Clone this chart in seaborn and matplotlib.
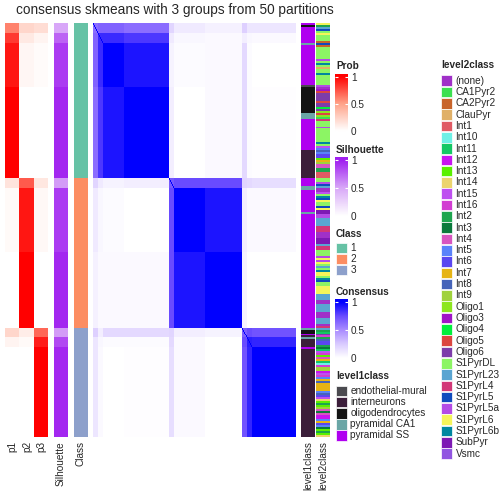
import numpy as np
import matplotlib
matplotlib.use("Agg")
import matplotlib.pyplot as plt
import seaborn as sns
from matplotlib.colors import ListedColormap, LinearSegmentedColormap

sns.set_style("white")
plt.rcParams['font.family'] = ['Liberation Sans', 'DejaVu Sans']

# ---- data ----
# sample groups (rows sorted as in the picture), samples per group and class
groups = ["A1", "A2", "B", "C", "D0", "D", "E", "F0", "F1", "H"]
group_sizes = [5, 5, 22, 46, 5, 32, 38, 5, 5, 45]
group_class = [1, 1, 1, 1, 2, 2, 2, 3, 3, 3]

# membership probabilities and silhouette for each group
prob_p1 = [0.60, 0.82, 0.93, 1.00, 0.15, 0.03, 0.00, 0.22, 0.06, 0.00]
prob_p2 = [0.22, 0.12, 0.05, 0.00, 0.72, 0.93, 1.00, 0.10, 0.03, 0.00]
prob_p3 = [0.18, 0.06, 0.02, 0.00, 0.13, 0.04, 0.00, 0.68, 0.91, 1.00]
silhouette = [0.50, 0.75, 0.90, 0.97, 0.55, 0.90, 0.97, 0.55, 0.85, 0.97]

# consensus between groups (symmetric)
consensus_blocks = [
    #  A1    A2    B     C     D0    D     E     F0    F1    H
    [0.62, 0.66, 0.66, 0.62, 0.20, 0.10, 0.07, 0.22, 0.12, 0.12],  # A1
    [0.66, 0.86, 0.86, 0.82, 0.10, 0.04, 0.03, 0.08, 0.04, 0.03],  # A2
    [0.66, 0.86, 1.00, 0.93, 0.06, 0.02, 0.03, 0.18, 0.02, 0.00],  # B
    [0.62, 0.82, 0.93, 1.00, 0.08, 0.00, 0.03, 0.18, 0.02, 0.01],  # C
    [0.20, 0.10, 0.06, 0.08, 0.70, 0.75, 0.75, 0.20, 0.18, 0.16],  # D0
    [0.10, 0.04, 0.02, 0.00, 0.75, 1.00, 0.93, 0.08, 0.03, 0.03],  # D
    [0.07, 0.03, 0.03, 0.03, 0.75, 0.93, 1.00, 0.06, 0.00, 0.00],  # E
    [0.22, 0.08, 0.18, 0.18, 0.20, 0.08, 0.06, 0.68, 0.75, 0.72],  # F0
    [0.12, 0.04, 0.02, 0.02, 0.18, 0.03, 0.00, 0.75, 0.90, 0.88],  # F1
    [0.12, 0.03, 0.00, 0.01, 0.16, 0.03, 0.00, 0.72, 0.88, 1.00],  # H
]

level1_names = ["endothelial-mural", "interneurons", "oligodendrocytes",
                "pyramidal CA1", "pyramidal SS"]
level1_colors = ["#4b4a4f", "#3b1e3a", "#141414", "#6aa6a6", "#b000f0"]
level1_runs = [
    ("pyramidal SS", 1), ("oligodendrocytes", 1), ("pyramidal SS", 8),
    ("pyramidal CA1", 1), ("pyramidal SS", 20), ("endothelial-mural", 1),
    ("oligodendrocytes", 13), ("pyramidal CA1", 3), ("pyramidal SS", 16),
    ("interneurons", 14),
    ("pyramidal SS", 4), ("pyramidal CA1", 2), ("pyramidal SS", 11),
    ("pyramidal CA1", 1), ("pyramidal SS", 57),
    ("pyramidal CA1", 1), ("oligodendrocytes", 2), ("pyramidal SS", 1),
    ("interneurons", 1), ("pyramidal CA1", 1), ("interneurons", 4),
    ("pyramidal SS", 1), ("interneurons", 44),
]

level2_names = ["(none)", "CA1Pyr2", "CA2Pyr2", "ClauPyr", "Int1", "Int10", "Int11",
                "Int12", "Int13", "Int14", "Int15", "Int16", "Int2", "Int3", "Int4",
                "Int5", "Int6", "Int7", "Int8", "Int9", "Oligo1", "Oligo3", "Oligo4",
                "Oligo5", "Oligo6", "S1PyrDL", "S1PyrL23", "S1PyrL4", "S1PyrL5",
                "S1PyrL5a", "S1PyrL6", "S1PyrL6b", "SubPyr", "Vsmc"]
level2_colors = ["#a030c8", "#3ce050", "#c8642a", "#e0b068", "#e05a64", "#6ef0e6",
                 "#14c864", "#c814f0", "#5af000", "#ecd46e", "#be50f0", "#d23cd2",
                 "#1ea54f", "#0a7a3c", "#d855c0", "#5a82fa", "#5a46f0", "#e6b414",
                 "#4664b9", "#a0d23c", "#8ce61e", "#a014c8", "#00f03c", "#dc4640",
                 "#7d3caa", "#8cf564", "#5aa5d2", "#d23778", "#0f4bbe", "#b44be6",
                 "#f5f55a", "#0087a0", "#7d19b4", "#9155e1"]
level2_runs = [
    # class 1
    ("S1PyrL6", 1), ("Int2", 1), ("S1PyrL23", 1), ("S1PyrL5", 1), ("S1PyrDL", 1),
    ("S1PyrL6", 1), ("S1PyrDL", 3), ("CA2Pyr2", 1), ("S1PyrL5", 1), ("CA2Pyr2", 1),
    ("S1PyrDL", 6), ("S1PyrL5a", 1), ("S1PyrDL", 1), ("S1PyrL6b", 1), ("S1PyrDL", 1),
    ("ClauPyr", 1), ("S1PyrDL", 2), ("S1PyrL6b", 1), ("S1PyrDL", 5), ("S1PyrL5a", 1),
    ("(none)", 1), ("Oligo3", 1), ("Oligo5", 1), ("Oligo6", 4), ("Oligo5", 1),
    ("Oligo6", 2), ("Oligo4", 1), ("Oligo6", 1), ("Oligo1", 1), ("Oligo5", 1),
    ("Oligo1", 1), ("CA1Pyr2", 1), ("S1PyrL4", 1), ("S1PyrDL", 3), ("S1PyrL5a", 1),
    ("S1PyrDL", 7), ("S1PyrL6b", 1), ("S1PyrDL", 1), ("Int15", 1), ("Int5", 1),
    ("Int8", 1), ("Int5", 1), ("Int6", 2), ("Int13", 1), ("Int7", 1), ("Int9", 1),
    ("Int4", 2), ("Int2", 2), ("Int1", 3),
    # class 2
    ("S1PyrDL", 2), ("S1PyrL5a", 1), ("S1PyrL5", 1), ("S1PyrL23", 1), ("(none)", 2),
    ("Int15", 1), ("S1PyrDL", 1), ("S1PyrL6b", 1), ("S1PyrL5", 1), ("S1PyrL6", 1),
    ("S1PyrDL", 2), ("S1PyrL5", 1), ("S1PyrL6", 1), ("SubPyr", 2), ("S1PyrL5a", 2),
    ("S1PyrL23", 4), ("S1PyrL4", 1),
    ("S1PyrL4", 2), ("(none)", 3), ("SubPyr", 3), ("S1PyrL23", 1), ("S1PyrL4", 2),
    ("S1PyrDL", 3), ("S1PyrL5a", 1), ("S1PyrL6", 1), ("S1PyrL5a", 1), ("S1PyrL6", 1),
    ("S1PyrDL", 1), ("S1PyrL23", 1), ("S1PyrDL", 1), ("S1PyrL6b", 1), ("S1PyrL6", 2),
    ("S1PyrDL", 1), ("S1PyrL6b", 1), ("S1PyrL5", 1), ("S1PyrDL", 2), ("S1PyrL6", 4),
    ("S1PyrL23", 3), ("(none)", 2), ("S1PyrL23", 4), ("(none)", 3), ("S1PyrL23", 3),
    ("(none)", 1), ("S1PyrL4", 1),
    # class 3
    ("S1PyrL23", 1), ("Int2", 1), ("Int11", 1), ("Oligo6", 1), ("Int16", 1),
    ("Int2", 1), ("Int8", 1), ("Int6", 2), ("Int2", 1), ("Int3", 1), ("Int11", 1),
    ("Int15", 1), ("Int16", 1), ("Int13", 1), ("Int4", 1), ("Int7", 1), ("Int11", 1),
    ("Int10", 1), ("Int16", 1), ("Int9", 2), ("Int12", 1), ("Int15", 1), ("Int16", 1),
    ("Int5", 1), ("Int7", 1), ("Int8", 1), ("Int7", 4), ("Int5", 1), ("Int8", 1),
    ("Int6", 1), ("Int15", 1), ("Int14", 1), ("Int13", 1), ("Int2", 1), ("Int13", 1),
    ("Int9", 1), ("Int4", 1), ("Int3", 1), ("Int4", 1), ("Int12", 2), ("Int5", 1),
    ("Int7", 1), ("Int6", 1), ("Int5", 1), ("Int3", 1), ("Int13", 1), ("Int2", 1),
    ("Int13", 1), ("Int14", 1),
]

class_colors = ["#66c2a5", "#fc8d62", "#8da0cb"]

# ---- expand to samples ----
gi = np.repeat(np.arange(len(groups)), group_sizes)
prob = np.column_stack([np.array(prob_p1)[gi], np.array(prob_p2)[gi], np.array(prob_p3)[gi]])
sil = np.array(silhouette)[gi][:, None]
cls = (np.array(group_class)[gi] - 1)[:, None]
cons = np.array(consensus_blocks)[gi][:, gi]
np.fill_diagonal(cons, 1.0)
lv1 = np.concatenate([[level1_names.index(n)] * k for n, k in level1_runs])[:, None]
lv2 = np.concatenate([[level2_names.index(n)] * k for n, k in level2_runs])[:, None]

prob_cmap = LinearSegmentedColormap.from_list("prob", ["#ffffff", "#ffa288", "#ff0000"])
sil_cmap = LinearSegmentedColormap.from_list("sil", ["#ffffff", "#d8a8f8", "#a020f0"])
cons_cmap = LinearSegmentedColormap.from_list(
    "cons", ["#ffffff", "#d9caff", "#a98cff", "#6a4cff", "#0000ff"])

fig = plt.figure(figsize=(5.04, 5.04), dpi=100)
W = 504.0


def px_axes(x0, y0, x1, y1):
    return fig.add_axes([x0 / W, 1 - y1 / W, (x1 - x0) / W, (y1 - y0) / W])


TOP, BOT = 23, 437


def strip(x0, x1, data, cmap, vmin, vmax):
    ax = px_axes(x0, TOP, x1, BOT)
    sns.heatmap(data, ax=ax, cmap=cmap, vmin=vmin, vmax=vmax, cbar=False,
                xticklabels=False, yticklabels=False)
    ax.set_xlabel("")
    ax.set_ylabel("")
    return ax


strip(5, 48, prob, prob_cmap, 0, 1)
strip(54, 68, sil, sil_cmap, 0, 1)
strip(74, 88, cls, ListedColormap(class_colors), -0.5, 2.5)
strip(93, 296, cons, cons_cmap, 0, 1)
strip(301, 315, lv1, ListedColormap(level1_colors), -0.5, len(level1_names) - 0.5)
strip(316, 330, lv2, ListedColormap(level2_colors), -0.5, len(level2_names) - 0.5)

fs = 7.2
# column labels
for x, lab in [(12.5, "p1"), (27, "p2"), (41, "p3"), (61, "Silhouette"),
               (81, "Class"), (308, "level1class"), (323, "level2class")]:
    fig.text(x / W, 1 - 441 / W, lab, rotation=90, ha="center", va="top", fontsize=fs)

fig.text(175 / W, 1 - 10 / W, "consensus skmeans with 3 groups from 50 partitions",
         ha="center", va="center", fontsize=9.8)


def gradient_legend(title, title_y, y_one, y_zero, cmap):
    fig.text(336 / W, 1 - title_y / W, title, fontsize=fs, fontweight="bold",
             ha="left", va="center")
    span = y_zero - y_one
    ext = 3.0 / span
    cax = px_axes(335, y_one - 3, 348, y_zero + 3)
    vals = np.clip(np.linspace(-ext, 1 + ext, 150), 0, 1)[:, None]
    cax.imshow(vals, aspect="auto", cmap=cmap, vmin=0, vmax=1, origin="lower",
               extent=[0, 1, -ext, 1 + ext])
    cax.set_ylim(-ext, 1 + ext)
    cax.set_xticks([])
    cax.set_yticks([0, 0.5, 1])
    cax.set_yticklabels(["0", "0.5", "1"])
    cax.yaxis.tick_right()
    cax.tick_params(axis="y", direction="in", color="white", length=2.5,
                    left=True, right=True, labelsize=fs, pad=2)
    for s in cax.spines.values():
        s.set_visible(False)


gradient_legend("Prob", 66, 77, 131, prob_cmap)
gradient_legend("Silhouette", 150, 160, 216, sil_cmap)
gradient_legend("Consensus", 292, 302, 358, cons_cmap)


def swatch_legend(x, title, title_y, first_y, step, names, colors):
    fig.text(x / W, 1 - title_y / W, title, fontsize=fs, fontweight="bold",
             ha="left", va="center")
    for i, (n, c) in enumerate(zip(names, colors)):
        yc = first_y + i * step
        fig.patches.append(plt.Rectangle((x / W, 1 - (yc + 5.3) / W), 11 / W, 10.6 / W,
                                         transform=fig.transFigure, facecolor=c,
                                         edgecolor="white", linewidth=0.5))
        fig.text((x + 14.5) / W, 1 - yc / W, n, fontsize=fs, ha="left", va="center")


swatch_legend(336, "Class", 234, 248, 11, ["1", "2", "3"], class_colors)
swatch_legend(336, "level1class", 376, 391, 11.1, level1_names, level1_colors)
swatch_legend(441, "level2class", 65, 80.7, 11.3, level2_names, level2_colors)

fig.savefig("out.png", dpi=100)
